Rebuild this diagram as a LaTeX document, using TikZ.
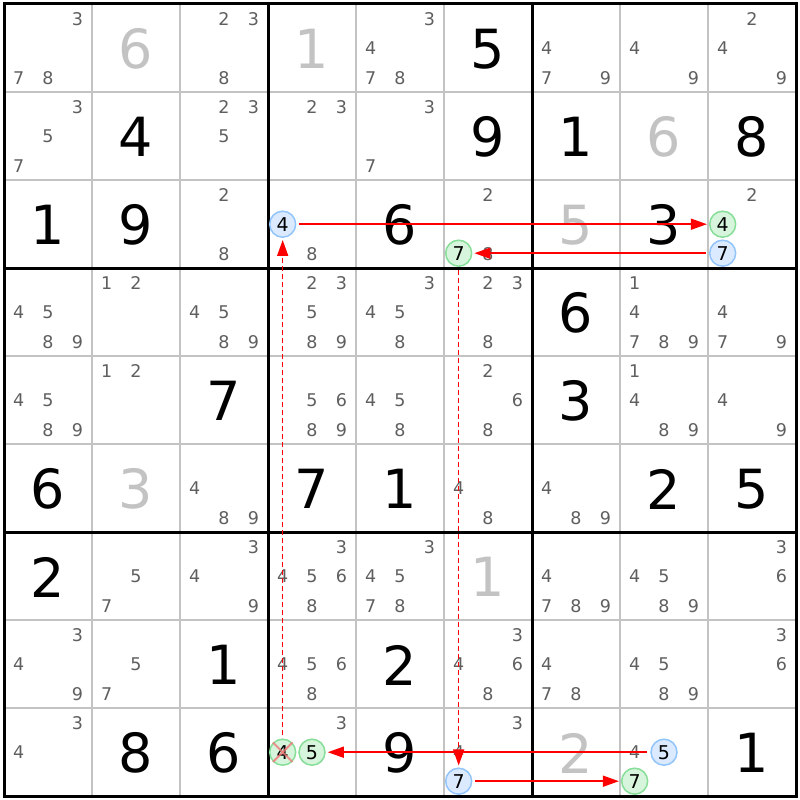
\documentclass[tikz,border=0pt]{standalone}
\usepackage{fontspec}
\setmainfont{DejaVu Sans}
\usetikzlibrary{arrows.meta}
\definecolor{candgray}{RGB}{95,95,95}
\definecolor{givengray}{RGB}{195,195,195}
\definecolor{gridgray}{RGB}{195,195,195}
\definecolor{bfill}{RGB}{219,234,254}
\definecolor{bdraw}{RGB}{147,197,253}
\definecolor{gfill}{RGB}{214,245,220}
\definecolor{gdraw}{RGB}{134,222,152}
\definecolor{xred}{RGB}{240,120,120}
\definecolor{linkred}{RGB}{255,0,0}
\begin{document}
\begin{tikzpicture}[x=1pt,y=-1pt,
 cand/.style={font=\fontsize{17.5}{17.5}\selectfont, text=candgray, inner sep=0pt},
 big/.style={font=\fontsize{54}{54}\selectfont, inner sep=0pt},
 bluec/.style={circle, draw=bdraw, fill=bfill, line width=1.5pt, minimum size=26pt, inner sep=0pt, font=\fontsize{19}{19}\selectfont, text=black},
 greenc/.style={bluec, draw=gdraw, fill=gfill},
 link/.style={color=linkred, line width=1.5pt, -{Triangle[length=16pt,width=11pt]}, shorten <=3pt, shorten >=2pt},
 weak/.style={link, dash pattern=on 5pt off 3pt},
 cross/.style={xred, line width=2pt, opacity=0.8}
]
\fill[white] (0,0) rectangle (800,800);
\useasboundingbox (0,0) rectangle (800,800);
% thin grid lines
\foreach \i in {1,2,4,5,7,8} {
  \draw[gridgray, line width=1.2pt] (4+88*\i,4) -- (4+88*\i,796);
  \draw[gridgray, line width=1.2pt] (4,4+88*\i) -- (796,4+88*\i);
}
% box lines
\foreach \i in {3,6} {
  \draw[black, line width=3pt] (4+88*\i,4) -- (4+88*\i,796);
  \draw[black, line width=3pt] (4,4+88*\i) -- (796,4+88*\i);
}
\draw[black, line width=3pt] (4,4) rectangle (796,796);
% big digits
\foreach \r/\c/\v in {0/5/5, 1/1/4, 1/5/9, 1/6/1, 1/8/8, 2/0/1, 2/1/9, 2/4/6, 2/7/3, 3/6/6, 4/2/7, 4/6/3, 5/0/6, 5/3/7, 5/4/1, 5/7/2, 5/8/5, 6/0/2, 7/2/1, 7/4/2, 8/1/8, 8/2/6, 8/4/9, 8/8/1}
  \node[big, text=black] (g-\r-\c) at (48+88*\c, 49+88*\r) {\v};
\foreach \r/\c/\v in {0/1/6, 0/3/1, 1/7/6, 2/6/5, 5/1/3, 6/5/1, 8/6/2}
  \node[big, text=givengray] (g-\r-\c) at (48+88*\c, 49+88*\r) {\v};
% candidates
\foreach \r/\c/\ds in {
 0/0/{3,7,8}, 0/2/{2,3,8}, 0/4/{3,4,7,8}, 0/6/{4,7,9}, 0/7/{4,9}, 0/8/{2,4,9},
 1/0/{3,5,7}, 1/2/{2,3,5}, 1/3/{2,3}, 1/4/{3,7},
 2/2/{2,8}, 2/3/{8}, 2/5/{2,8}, 2/8/{2},
 3/0/{4,5,8,9}, 3/1/{1,2}, 3/2/{4,5,8,9}, 3/3/{2,3,5,8,9}, 3/4/{3,4,5,8}, 3/5/{2,3,8}, 3/7/{1,4,7,8,9}, 3/8/{4,7,9},
 4/0/{4,5,8,9}, 4/1/{1,2}, 4/3/{5,6,8,9}, 4/4/{4,5,8}, 4/5/{2,6,8}, 4/7/{1,4,8,9}, 4/8/{4,9},
 5/2/{4,8,9}, 5/5/{4,8}, 5/6/{4,8,9},
 6/1/{5,7}, 6/2/{3,4,9}, 6/3/{3,4,5,6,8}, 6/4/{3,4,5,7,8}, 6/6/{4,7,8,9}, 6/7/{4,5,8,9}, 6/8/{3,6},
 7/0/{3,4,9}, 7/1/{5,7}, 7/3/{4,5,6,8}, 7/5/{3,4,6,8}, 7/6/{4,7,8}, 7/7/{4,5,8,9}, 7/8/{3,6},
 8/0/{3,4}, 8/3/{3}, 8/5/{3,4}, 8/7/{4}}
{
  \foreach \d in \ds {
    \pgfmathsetmacro\cx{4+88*\c+14.667+29.333*mod(\d-1,3)}
    \pgfmathsetmacro\cy{4+88*\r+15.2+29.333*floor((\d-1)/3)}
    \node[cand] (c-\r-\c-\d) at (\cx,\cy) {\d};
  }
}
% highlighted candidates
\node[bluec]  (n4a) at (282.67,224.2) {4};
\node[greenc] (n4b) at (722.67,224.2) {4};
\node[bluec]  (n7a) at (722.67,253.2) {7};
\node[greenc] (n7b) at (458.67,253.2) {7};
\node[greenc] (n4c) at (282.67,752.2) {4};
\node[greenc] (n5a) at (312.00,752.2) {5};
\node[bluec]  (n7c) at (458.67,781.2) {7};
\node[bluec]  (n5b) at (664.00,752.2) {5};
\node[greenc] (n7d) at (634.67,781.2) {7};
% elimination cross
\draw[cross] (n4c.north west) -- (n4c.south east);
\draw[cross] (n4c.north east) -- (n4c.south west);
% chain links
\draw[link] (n4a) -- (n4b);
\draw[link] (n7a) -- (n7b);
\draw[weak] (n4c) -- (n4a);
\draw[weak] (n7b) -- (n7c);
\draw[link] (n5b) -- (n5a);
\draw[link] (n7c) -- (n7d);
\end{tikzpicture}
\end{document}
